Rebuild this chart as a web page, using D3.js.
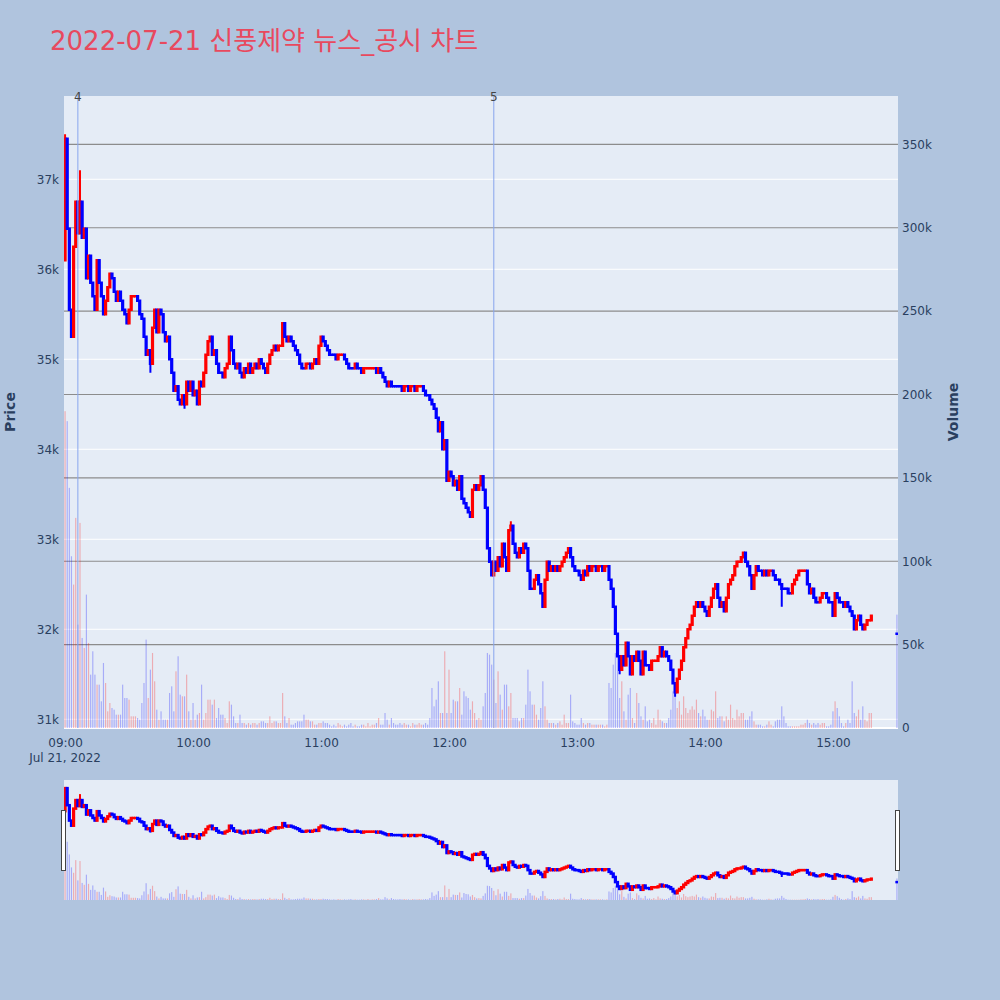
<!DOCTYPE html>
<html><head><meta charset="utf-8">
<script src="https://cdn.jsdelivr.net/npm/d3@7"></script>
<style>body{margin:0;background:#b0c4de;} svg{display:block}</style>
</head><body><svg id="c" width="1000" height="1000"></svg>
<script>
// ---------------- data ----------------
const chartTitle = "2022-07-21 신풍제약 뉴스_공시 차트";
const firstOpen = 36100;
// 1-minute closes from 09:00
const closes = [
37450,36450,35550,35250,36250,36750,36400,36750,36350,36450,
35900,36150,35850,35700,35550,36100,35850,35700,35500,35650,
35800,35950,35900,35750,35650,35750,35650,35550,35500,35400,
35550,35700,35700,35700,35650,35500,35450,35250,35050,35100,
34950,35350,35550,35300,35550,35500,35300,35200,35250,35000,
34850,34650,34700,34550,34500,34600,34500,34750,34650,34750,
34600,34650,34500,34750,34700,34850,35050,35200,35250,35050,
35100,34950,34850,34850,34800,34900,34950,35250,35100,34950,
34900,34950,34850,34800,34900,34850,34950,34850,34900,34950,
34900,35000,34950,34900,34850,34950,35050,35100,35150,35100,
35150,35150,35400,35250,35200,35250,35200,35150,35100,35050,
34950,34900,34900,34950,34950,34900,34950,35000,34950,35150,
35250,35200,35150,35100,35050,35050,35050,35000,35050,35050,
35050,35000,34950,34900,34900,34900,34950,34900,34900,34850,
34900,34900,34900,34900,34900,34900,34850,34900,34850,34800,
34750,34700,34750,34700,34700,34700,34700,34700,34650,34700,
34700,34650,34700,34700,34650,34700,34700,34700,34650,34600,
34600,34550,34500,34450,34350,34200,34300,34000,34100,33650,
33750,33700,33600,33650,33550,33700,33450,33400,33350,33300,
33250,33550,33600,33550,33600,33700,33550,33350,32900,32750,
32600,32750,32650,32800,32700,32950,32800,32650,33100,33150,
32950,32850,32800,32900,32850,32950,32900,32650,32450,32450,
32550,32600,32500,32400,32250,32550,32750,32650,32700,32650,
32700,32650,32700,32750,32800,32850,32900,32800,32700,32650,
32650,32600,32550,32650,32600,32700,32650,32700,32700,32650,
32700,32700,32650,32700,32700,32550,32450,32250,31950,31700,
31550,31700,31600,31850,31700,31500,31700,31650,31750,31650,
31500,31750,31600,31600,31550,31650,31650,31650,31700,31800,
31700,31750,31700,31650,31550,31400,31300,31450,31550,31650,
31800,31900,32000,32050,32150,32250,32300,32250,32300,32250,
32200,32150,32250,32350,32450,32500,32350,32250,32300,32200,
32350,32500,32550,32600,32700,32750,32750,32800,32850,32750,
32700,32600,32450,32600,32700,32650,32650,32600,32650,32600,
32650,32650,32600,32550,32550,32500,32450,32450,32450,32400,
32400,32500,32550,32600,32650,32650,32650,32650,32500,32400,
32450,32350,32300,32300,32350,32400,32400,32350,32300,32300,
32150,32400,32350,32300,32300,32250,32300,32250,32200,32150,
32000,32100,32150,32050,32000,32050,32100,32100,32150
];
// extra wick extremes: [minute index, price]
const wickHighs = [[0,37500],[7,37100],[209,33200]];
const wickLows = [[40,34850],[56,34450],[260,31500],[286,31250],[336,32250]];
// 1-minute volumes, thousands of shares
const volumesK = [
190,184,144,103,86,126,62,123,54,48,
80,51,32,46,32,26,26,16,39,27,
10,15,12,11,8,8,8,26,18,18,
17,7,7,7,6,5,15,27,53,18,
35,45,28,11,5,10,5,5,5,21,
25,10,34,43,20,19,19,32,10,5,
15,5,8,9,26,5,9,17,17,14,
17,6,12,8,8,6,3,16,14,7,
3,3,8,3,3,2,3,2,3,3,
2,3,4,4,3,3,7,3,4,4,
3,3,21,7,3,6,2,2,3,4,
4,4,8,5,5,4,4,2,2,3,
3,4,3,3,2,1,2,1,3,2,
1,2,1,2,3,1,2,1,1,2,
2,1,3,1,2,2,3,6,2,2,
9,5,2,6,3,2,2,3,2,3,
2,2,1,3,2,2,3,2,2,3,
2,6,24,13,17,28,9,9,46,9,
35,9,17,16,16,24,8,22,19,18,
11,16,9,5,6,5,13,21,45,44,
38,29,15,34,20,11,26,26,13,21,
6,6,6,4,6,6,14,35,22,14,
14,8,5,12,28,13,5,3,3,3,
2,3,4,2,8,3,3,20,4,3,
2,2,6,3,2,3,3,2,2,2,
2,2,2,1,2,27,24,38,45,46,
18,28,10,5,20,24,6,3,21,15,
7,5,13,4,5,3,6,2,11,5,
4,3,3,6,11,22,20,12,16,8,
19,12,9,11,13,11,17,9,7,11,
7,5,5,11,10,22,6,7,7,4,
7,5,14,6,5,11,7,9,9,5,
5,7,10,4,2,2,2,1,1,2,
4,2,1,4,5,5,13,7,3,1,
1,1,1,1,1,2,2,3,5,3,
2,3,2,3,2,3,3,1,1,2,
10,16,12,7,3,1,3,5,3,28,
9,7,11,5,13,5,4,9,9
];
const auctionTime = "15:30";
const auctionPrice = 31950;
const auctionVolumeK = 68;
const newsTimes = ["09:06","12:21"];
const newsLabels = ["4","5"];
const priceTicks = [31000,32000,33000,34000,35000,36000,37000];
const volumeTicksK = [0,50,100,150,200,250,300,350];
const timeTicks = ["09:00","10:00","11:00","12:00","13:00","14:00","15:00"];
const dateLabel = "Jul 21, 2022";

// ---------------- layout ----------------
const L = 64, R = 898, T = 96, B = 728;
const ST = 780, SB = 900;
const FONT = "'DejaVu Sans', 'Noto Sans CJK KR', sans-serif";
const TXT = "#2a3f5f";
const parseT = s => { const [h,m] = s.split(":").map(Number); return new Date(2022,6,21,h,m,0); };

const x = d3.scaleTime().domain([new Date(2022,6,21,8,59,30), new Date(2022,6,21,15,30,30)]).range([L,R]);
const yP = d3.scaleLinear().domain([30903,37925]).range([B,T]);
const yV = d3.scaleLinear().domain([0,379]).range([B,T]);
const yPs = d3.scaleLinear().domain(yP.domain()).range([SB,ST]);
const yVs = d3.scaleLinear().domain(yV.domain()).range([SB,ST]);

// candles
const candles = closes.map((c,i) => {
  const o = i === 0 ? firstOpen : closes[i-1];
  return {t: new Date(2022,6,21,9,i,0), o, c, h: Math.max(o,c), l: Math.min(o,c), v: volumesK[i]};
});
wickHighs.forEach(([i,p]) => candles[i].h = Math.max(candles[i].h, p));
wickLows.forEach(([i,p]) => candles[i].l = Math.min(candles[i].l, p));
candles.push({t: parseT(auctionTime), o: auctionPrice, c: auctionPrice, h: auctionPrice, l: auctionPrice, v: auctionVolumeK});
let lastUp = true, prevC = null;
candles.forEach(d => {
  if (d.c > d.o) d.up = true;
  else if (d.c < d.o) d.up = false;
  else if (prevC !== null && d.c > prevC) d.up = true;
  else if (prevC !== null && d.c < prevC) d.up = false;
  else d.up = lastUp;
  lastUp = d.up; prevC = d.c;
});
const step = x(new Date(2022,6,21,9,1)) - x(new Date(2022,6,21,9,0));

const svg = d3.select("#c");
svg.append("rect").attr("width",1000).attr("height",1000).attr("fill","#b0c4de");
const defs = svg.append("defs");
defs.append("clipPath").attr("id","clipMain").append("rect").attr("x",L).attr("y",T).attr("width",R-L).attr("height",B-T);
defs.append("clipPath").attr("id","clipSl").append("rect").attr("x",L).attr("y",ST).attr("width",R-L).attr("height",SB-ST);

// title
svg.append("text").attr("x",50).attr("y",50).attr("font-family",FONT).attr("font-size",26)
  .attr("fill","#e8495e").text(chartTitle);

// plot bg
svg.append("rect").attr("x",L).attr("y",T).attr("width",R-L).attr("height",B-T).attr("fill","#e5ecf6");

// grids
const g = svg.append("g");
g.selectAll(".pg").data(priceTicks).join("line")
  .attr("x1",L).attr("x2",R).attr("y1",d=>yP(d)).attr("y2",d=>yP(d))
  .attr("stroke","#ffffff").attr("stroke-width",1);
g.append("line").attr("x1",L).attr("x2",R).attr("y1",yV(0)).attr("y2",yV(0)).attr("stroke","#ffffff").attr("stroke-width",2);
g.selectAll(".vg").data(volumeTicksK.filter(d=>d>0)).join("line")
  .attr("x1",L).attr("x2",R).attr("y1",d=>yV(d)).attr("y2",d=>yV(d))
  .attr("stroke","#8c8c8c").attr("stroke-width",1.2);

function drawSeries(group, yp, yv, clip) {
  const G = group.append("g").attr("clip-path", `url(#${clip})`);
  const bw = step * 0.55;
  G.append("g").selectAll("rect").data(candles).join("rect")
    .attr("x", d => x(d.t) - bw/2).attr("width", bw)
    .attr("y", d => yv(d.v)).attr("height", d => yv(0) - yv(d.v))
    .attr("fill", d => d.up ? "rgba(255,0,0,0.27)" : "rgba(0,0,255,0.27)");
  const cb = step * 0.55;
  const cg = G.append("g");
  cg.selectAll("line").data(candles).join("line")
    .attr("x1", d => x(d.t)).attr("x2", d => x(d.t))
    .attr("y1", d => yp(d.h)).attr("y2", d => yp(d.l))
    .attr("stroke", d => d.up ? "#ff0000" : "#0000ff").attr("stroke-width", 2);
  cg.selectAll("rect").data(candles).join("rect")
    .attr("x", d => x(d.t) - cb/2).attr("width", cb)
    .attr("y", d => yp(Math.max(d.o,d.c)) - 0.25)
    .attr("height", d => Math.abs(yp(d.o) - yp(d.c)) + 0.5)
    .attr("fill", d => d.up ? "#ff0000" : "#0000ff")
    .attr("stroke", d => d.up ? "#ff0000" : "#0000ff").attr("stroke-width", 2);
}
drawSeries(svg, yP, yV, "clipMain");

// news lines
const news = newsTimes.map((t,i) => ({t: parseT(t), label: newsLabels[i]}));
svg.append("g").selectAll("line").data(news).join("line")
  .attr("x1", d => x(d.t)).attr("x2", d => x(d.t)).attr("y1", T).attr("y2", B)
  .attr("stroke", "#88a6ee").attr("stroke-width", 1);
svg.append("g").selectAll("text").data(news).join("text")
  .attr("x", d => x(d.t)).attr("y", 101).attr("text-anchor","middle")
  .attr("font-family",FONT).attr("font-size",12).attr("fill","#444").text(d => d.label);

// axes
const axP = svg.append("g").attr("transform",`translate(${L},0)`)
  .call(d3.axisLeft(yP).tickValues(priceTicks).tickFormat(d => (d/1000) + "k").tickSize(0).tickPadding(5));
const axV = svg.append("g").attr("transform",`translate(${R},0)`)
  .call(d3.axisRight(yV).tickValues(volumeTicksK).tickFormat(d => d === 0 ? "0" : d + "k").tickSize(0).tickPadding(4));
const axX = svg.append("g").attr("transform",`translate(0,${B})`)
  .call(d3.axisBottom(x).tickValues(timeTicks.map(parseT)).tickFormat(d3.timeFormat("%H:%M")).tickSize(0).tickPadding(10));
[axP, axV, axX].forEach(a => {
  a.select(".domain").remove();
  a.selectAll("text").attr("font-family",FONT).attr("font-size",12).attr("fill",TXT);
});
svg.append("text").attr("x", x(parseT(timeTicks[0]))).attr("y", 762).attr("text-anchor","middle")
  .attr("font-family",FONT).attr("font-size",12).attr("fill",TXT).text(dateLabel);

// axis titles
svg.append("text").attr("transform","translate(15,412) rotate(-90)").attr("text-anchor","middle")
  .attr("font-family",FONT).attr("font-size",14).attr("font-weight","bold").attr("fill",TXT).text("Price");
svg.append("text").attr("transform","translate(958,412) rotate(-90)").attr("text-anchor","middle")
  .attr("font-family",FONT).attr("font-size",14).attr("font-weight","bold").attr("fill",TXT).text("Volume");

// range slider
svg.append("rect").attr("x",L).attr("y",ST).attr("width",R-L).attr("height",SB-ST).attr("fill","#e5ecf6");
drawSeries(svg, yPs, yVs, "clipSl");
[[L-2.5],[R-2.5]].forEach(([hx]) => {
  svg.append("rect").attr("x",hx).attr("y",ST+30.5).attr("width",4).attr("height",60)
    .attr("fill","#ffffff").attr("stroke","#444").attr("stroke-width",1);
});
</script></body></html>
